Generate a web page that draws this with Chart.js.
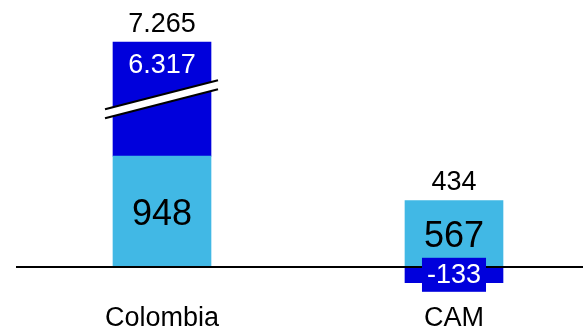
<!DOCTYPE html>
<html>
<head>
<meta charset="utf-8">
<script src="https://cdn.jsdelivr.net/npm/chart.js@4"></script>
<style>
  html, body { margin: 0; padding: 0; background: #fff; overflow: hidden; }
  #wrap { width: 583px; height: 330px; }
</style>
</head>
<body>
<div id="wrap"><canvas id="myChart" width="583" height="330"></canvas></div>
<script>
const categories = ["Colombia", "CAM"];
const baseValues = [948, 567];
const changeValues = [6317, -133];
// Colombia's segment is cut by the axis break, so it is drawn shorter
const drawnChange = [975, -133];

const lightBlue = "#41B8E5";
const darkBlue = "#0000DC";
const fontFamily = "'Liberation Sans', Arial, sans-serif";

const totals = baseValues.map((v, i) => v + changeValues[i]);

const fmt = (v) => {
  const s = String(Math.abs(v)).replace(/\B(?=(\d{3})+(?!\d))/g, ".");
  return v < 0 ? "-" + s : s;
};

const toPoints = (arr) => arr.map((v, i) => ({ x: i, y: v }));

const labelsPlugin = {
  id: "barLabels",
  afterDatasetsDraw(chart) {
    const ctx = chart.ctx;
    const yScale = chart.scales.y;
    const xScale = chart.scales.x;
    const zeroY = yScale.getPixelForValue(0);

    // zero line
    ctx.save();
    ctx.strokeStyle = "#000";
    ctx.lineWidth = 2;
    ctx.beginPath();
    ctx.moveTo(xScale.getPixelForValue(-0.5), zeroY);
    ctx.lineTo(chart.width, zeroY);
    ctx.stroke();

    const light = chart.getDatasetMeta(0).data;
    const dark = chart.getDatasetMeta(1).data;

    // axis break on Colombia's big segment
    const b = dark[0];
    const midY = (b.y + b.base) / 2;
    const half = b.width / 2;
    const x1 = b.x - half - 8;
    const x2 = b.x + half + 7;
    const slope = -29 / (x2 - x1);
    const yAt = (x, off) => midY + off + (x - b.x) * slope;
    ctx.fillStyle = "#fff";
    ctx.beginPath();
    ctx.moveTo(x1, yAt(x1, -4.5));
    ctx.lineTo(x2, yAt(x2, -4.5));
    ctx.lineTo(x2, yAt(x2, 4.5));
    ctx.lineTo(x1, yAt(x1, 4.5));
    ctx.closePath();
    ctx.fill();
    ctx.strokeStyle = "#000";
    ctx.lineWidth = 2;
    [-4.5, 4.5].forEach((off) => {
      ctx.beginPath();
      ctx.moveTo(x1, yAt(x1, off));
      ctx.lineTo(x2, yAt(x2, off));
      ctx.stroke();
    });

    ctx.textAlign = "center";
    ctx.textBaseline = "middle";

    light.forEach((bar, i) => {
      ctx.font = "36px " + fontFamily;
      ctx.fillStyle = "#000";
      ctx.fillText(fmt(baseValues[i]), bar.x, (bar.y + bar.base) / 2 + 3);
    });

    dark.forEach((bar, i) => {
      ctx.font = "27px " + fontFamily;
      const txt = fmt(changeValues[i]);
      if (changeValues[i] < 0) {
        const cy = (bar.y + bar.base) / 2;
        const w = ctx.measureText(txt).width + 10;
        ctx.fillStyle = darkBlue;
        ctx.fillRect(bar.x - w / 2, cy - 17, w, 34);
        ctx.fillStyle = "#fff";
        ctx.fillText(txt, bar.x, cy + 1);
      } else {
        ctx.fillStyle = "#fff";
        ctx.fillText(txt, bar.x, bar.y + 23);
      }
    });

    totals.forEach((t, i) => {
      const top = Math.min(light[i].y, dark[i].y);
      ctx.font = "27px " + fontFamily;
      ctx.fillStyle = "#000";
      ctx.fillText(fmt(t), light[i].x, top - 18);
    });
    ctx.restore();
  },
};

const config = {
  type: "bar",
  data: {
    datasets: [
      {
        label: "Base",
        backgroundColor: lightBlue,
        data: toPoints(baseValues),
      },
      {
        label: "Variación",
        backgroundColor: darkBlue,
        data: toPoints(drawnChange),
      },
    ],
  },
  options: {
    responsive: false,
    animation: false,
    events: [],
    barThickness: 98,
    layout: { padding: 0 },
    plugins: {
      legend: { display: false },
      tooltip: { enabled: false },
    },
    scales: {
      x: {
        type: "linear",
        stacked: true,
        offset: false,
        min: -0.5548,
        max: 1.4418,
        afterBuildTicks: (axis) => {
          axis.ticks = categories.map((_, i) => ({ value: i }));
        },
        afterFit: (axis) => {
          axis.height = 30;
        },
        grid: { display: false, drawTicks: false, offset: false },
        border: { display: false },
        ticks: {
          padding: 2,
          color: "#000",
          font: { family: fontFamily, size: 27 },
          maxRotation: 0,
          autoSkip: false,
          callback: (v) => categories[v] ?? "",
        },
      },
      y: {
        display: false,
        stacked: true,
        min: -282,
        max: 2283,
      },
    },
  },
  plugins: [labelsPlugin],
};

const chart = new Chart(document.getElementById("myChart"), config);
</script>
</body>
</html>
